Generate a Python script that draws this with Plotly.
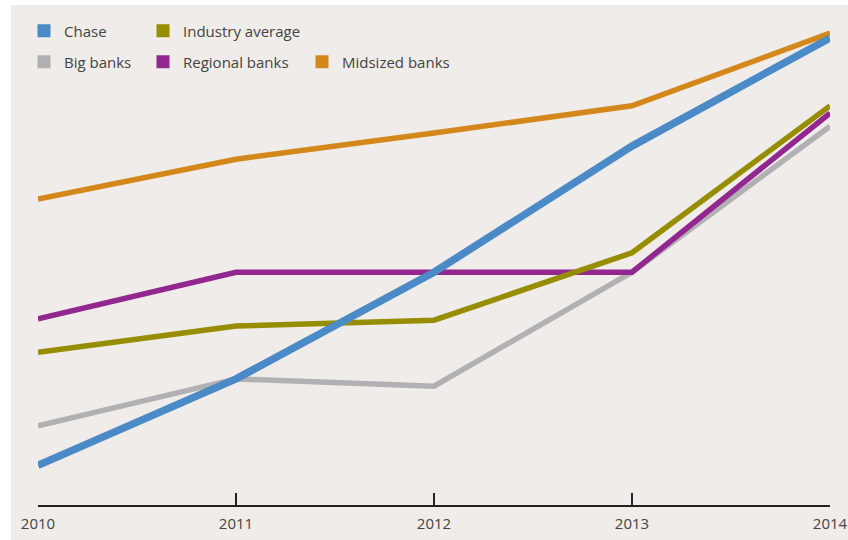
import plotly.graph_objects as go

years = [2010, 2011, 2012, 2013, 2014]
chase = [8.2, 26.0, 48.0, 74.0, 96.3]
big_banks = [16.3, 26.0, 24.5, 48.0, 78.1]
industry_avg = [31.5, 36.9, 38.1, 52.0, 82.3]
regional_banks = [38.4, 48.0, 48.0, 48.0, 80.8]
midsized_banks = [63.1, 71.3, 76.7, 82.3, 97.3]

BG = "#efece9"
C_CHASE = "#4a8ac6"
C_IND = "#968d00"
C_BIG = "#b1b1b4"
C_REG = "#92278f"
C_MID = "#d4881c"
FONT = "Open Sans"

W, H = 848, 540
ML, MR, MT, MB = 38, 18, 20, 35
PW, PH = W - ML - MR, H - MT - MB


def px_x(p):
    return (p - ML) / PW


def px_y(p):
    return (H - MB - p) / PH


fig = go.Figure()

series = [
    ("Big banks", big_banks, C_BIG, 5.5),
    ("Regional banks", regional_banks, C_REG, 5.5),
    ("Industry average", industry_avg, C_IND, 5.5),
    ("Midsized banks", midsized_banks, C_MID, 5.5),
    ("Chase", chase, C_CHASE, 7.5),
]
for name, vals, col, w in series:
    fig.add_trace(go.Scatter(x=years, y=vals, mode="lines", name=name,
                             line=dict(color=col, width=w), cliponaxis=False,
                             showlegend=False, hoverinfo="skip"))

# legend entries: (name, colour, square centre x px, row centre y px)
legend_items = [
    ("Chase", C_CHASE, 44, 31),
    ("Industry average", C_IND, 163, 31),
    ("Big banks", C_BIG, 44, 62),
    ("Regional banks", C_REG, 163, 62),
    ("Midsized banks", C_MID, 322, 62),
]
leg_layout = {}
for i, (name, col, cx, cy) in enumerate(legend_items):
    key = "legend" if i == 0 else f"legend{i + 1}"
    fig.add_trace(go.Scatter(x=[None], y=[None], mode="markers", name=name,
                             marker=dict(symbol="square", size=13, color=col),
                             legend=key, showlegend=True))
    leg_layout[key] = dict(orientation="h", bgcolor="rgba(0,0,0,0)", borderwidth=0,
                           font=dict(family=FONT, size=15, color="#444444"),
                           xanchor="left", yanchor="middle", itemwidth=30,
                           xref="container", yref="container",
                           x=(cx - 20) / W, y=1 - cy / H)

fig.update_layout(
    width=W, height=H,
    margin=dict(l=ML, r=MR, t=MT, b=MB, autoexpand=False),
    paper_bgcolor="white",
    plot_bgcolor=BG,
    font=dict(family=FONT, size=15, color="#444444"),
    xaxis=dict(range=[2010, 2014], tickvals=years, ticktext=[str(y) for y in years],
               showgrid=False, zeroline=False, showline=True, linecolor="#222222",
               linewidth=2, ticks="inside", ticklen=12, tickwidth=2, tickcolor="#222222",
               ticklabelstandoff=4, automargin=False,
               tickfont=dict(family=FONT, size=15, color="#444444"), fixedrange=True),
    yaxis=dict(range=[0, 100], visible=False, fixedrange=True, automargin=False),
    shapes=[dict(type="rect", xref="paper", yref="paper",
                 x0=px_x(11), x1=px_x(W + 2), y0=px_y(H + 2), y1=px_y(5),
                 fillcolor=BG, line=dict(width=0), layer="below")],
    **leg_layout,
)

post = ("document.documentElement.style.margin='0';"
        "document.body.style.margin='0';document.body.style.padding='0';"
        "document.body.style.overflow='hidden';")

fig.write_html("out.html", post_script=post, config={"displayModeBar": False})
